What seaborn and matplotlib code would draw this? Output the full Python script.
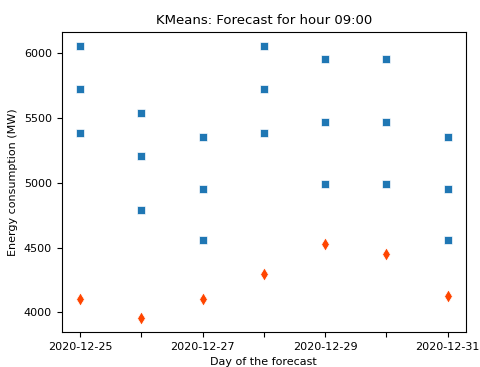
import pandas as pd
import matplotlib
matplotlib.use("Agg")
import matplotlib.pyplot as plt
import seaborn as sns

# Forecast days
days = pd.to_datetime(["2020-12-25", "2020-12-26", "2020-12-27", "2020-12-28",
                       "2020-12-29", "2020-12-30", "2020-12-31"])
# Cluster centroids (three per day)
centroid_high = [6060, 5540, 5357, 6060, 5954, 5954, 5357]
centroid_mid = [5728, 5206, 4950, 5728, 5470, 5470, 4950]
centroid_low = [5388, 4789, 4556, 5388, 4989, 4989, 4556]
# Actual consumption
actual = [4103, 3952, 4103, 4292, 4530, 4449, 4129]
tick_labels = ["2020-12-25", "", "2020-12-27", "", "2020-12-29", "", "2020-12-31"]

centroids = pd.DataFrame({
    "day": list(days) * 3,
    "value": centroid_high + centroid_mid + centroid_low,
})
real = pd.DataFrame({"day": days, "value": actual})

plt.rcParams["font.size"] = 8
fig = plt.figure(figsize=(4.81, 3.67), dpi=100)
ax = fig.add_axes([0.128, 0.095, 0.841, 0.818])

sns.scatterplot(data=centroids, x="day", y="value", marker="s", color="#1f77b4",
                s=36, ax=ax)
sns.scatterplot(data=real, x="day", y="value", marker="d", color="orangered",
                s=45, ax=ax)

ax.set_xticks(days)
ax.set_xticklabels(tick_labels)
ax.set_title("KMeans: Forecast for hour 09:00", fontsize=9.5)
ax.set_xlabel("Day of the forecast")
ax.set_ylabel("Energy consumption (MW)")

fig.savefig("out.png", dpi=100)
